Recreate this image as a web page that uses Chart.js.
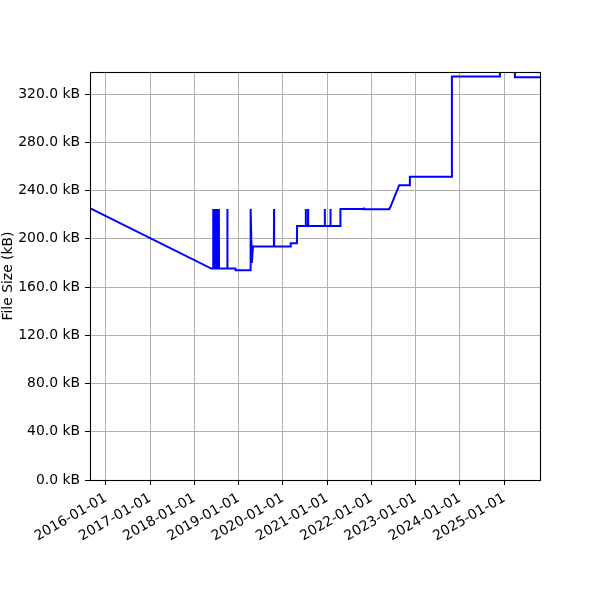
<!DOCTYPE html>
<html>
<head>
<meta charset="utf-8">
<script src="https://cdn.jsdelivr.net/npm/chart.js@4.4.1/dist/chart.umd.min.js"></script>
<style>
  html, body { margin: 0; padding: 0; background: #fff; }
  #wrap { width: 600px; height: 600px; }
</style>
</head>
<body>
<div id="wrap"><canvas id="sizeChart" width="600" height="600"></canvas></div>
<script>
// release dates and file sizes (kB)
const releaseDates = [
  '2015-08-23', '2018-05-21',
  '2018-06-04', '2018-06-05', '2018-06-06',
  '2018-06-16', '2018-06-17', '2018-06-18',
  '2018-06-28', '2018-06-29', '2018-06-30',
  '2018-07-11', '2018-07-12', '2018-07-13',
  '2018-07-21', '2018-07-22', '2018-07-23',
  '2018-09-29', '2018-09-30', '2018-10-01',
  '2018-12-06', '2018-12-07',
  '2019-04-09', '2019-04-10', '2019-04-20', '2019-04-29',
  '2019-10-19', '2019-10-20', '2019-10-21',
  '2020-03-05', '2020-03-06',
  '2020-04-26', '2020-04-27',
  '2020-07-07', '2020-07-08', '2020-07-09',
  '2020-07-26', '2020-07-27', '2020-07-28',
  '2020-12-11', '2020-12-12', '2020-12-13',
  '2021-01-27', '2021-01-28', '2021-01-29',
  '2021-04-19', '2021-04-20',
  '2021-10-28', '2021-10-30', '2021-11-01',
  '2022-05-27', '2022-06-07', '2022-08-18',
  '2022-11-13', '2022-11-14',
  '2023-10-26', '2023-10-27',
  '2024-11-25', '2024-11-26',
  '2025-03-29', '2025-03-30',
  '2025-10-23'
];
const fileSizes = [
  225.4, 175.3,
  175.3, 224.8, 175.3,
  175.3, 224.8, 175.3,
  175.3, 224.8, 175.3,
  175.3, 224.8, 175.3,
  175.3, 224.8, 175.3,
  175.3, 224.8, 175.3,
  175.3, 174.0,
  174.0, 224.8, 180.0, 193.6,
  193.6, 224.8, 193.6,
  193.6, 196.4,
  196.4, 210.7,
  210.7, 224.8, 210.7,
  210.7, 224.8, 210.7,
  210.7, 224.8, 210.7,
  210.7, 224.8, 210.7,
  210.7, 224.8,
  224.8, 225.9, 224.6,
  224.6, 226.5, 244.5,
  244.5, 251.4,
  251.4, 334.5,
  334.5, 345.0,
  345.0, 334.0,
  334.0
];
const yearTicks = ['2016-01-01', '2017-01-01', '2018-01-01', '2019-01-01', '2020-01-01',
  '2021-01-01', '2022-01-01', '2023-01-01', '2024-01-01', '2025-01-01'];
const xStart = '2015-08-23T12:00:00Z';
const xEnd = '2025-10-22T19:00:00Z';
const yTop = 338.3;

const toMs = d => Date.parse(d.length === 10 ? d + 'T00:00:00Z' : d);

Chart.defaults.font.family = 'DejaVu Sans';
Chart.defaults.font.size = 13.9;
Chart.defaults.color = '#000';

// matplotlib-like box round the plot area
const frame = {
  id: 'frame',
  afterDatasetsDraw(chart) {
    const a = chart.chartArea;
    const ctx = chart.ctx;
    ctx.save();
    ctx.strokeStyle = '#000';
    ctx.lineWidth = 1.1;
    ctx.strokeRect(Math.round(a.left) + 0.5, Math.round(a.top) + 0.5,
      Math.round(a.right - a.left), Math.round(a.bottom - a.top));
    ctx.restore();
  }
};

new Chart(document.getElementById('sizeChart'), {
  type: 'line',
  data: {
    datasets: [{
      data: releaseDates.map((d, i) => ({ x: toMs(d), y: fileSizes[i] })),
      borderColor: '#0000ff',
      borderWidth: 2,
      pointRadius: 0,
      tension: 0,
      fill: false
    }]
  },
  options: {
    responsive: false,
    animation: false,
    devicePixelRatio: 1,
    layout: { padding: { left: 0, top: 72, right: 60, bottom: 0 } },
    plugins: { legend: { display: false }, tooltip: { enabled: false } },
    scales: {
      x: {
        type: 'linear',
        min: toMs(xStart),
        max: toMs(xEnd),
        afterBuildTicks: scale => {
          scale.ticks = yearTicks.map(d => ({ value: toMs(d) }));
        },
        afterFit: scale => { scale.height = 120; },
        border: { display: false },
        grid: { color: '#b0b0b0', lineWidth: 1, tickColor: '#000', tickLength: 5 },
        ticks: {
          autoSkip: false,
          maxRotation: 30,
          minRotation: 30,
          padding: 5,
          includeBounds: false,
          callback: v => new Date(v).toISOString().slice(0, 10)
        }
      },
      y: {
        min: 0,
        max: yTop,
        afterFit: scale => { scale.width = 90; },
        border: { display: false },
        grid: { color: '#b0b0b0', lineWidth: 1, tickColor: '#000', tickLength: 5 },
        ticks: {
          stepSize: 40,
          includeBounds: false,
          padding: 5,
          callback: v => v.toFixed(1) + ' kB'
        },
        title: { display: true, text: 'File Size (kB)', padding: 0 }
      }
    }
  },
  plugins: [frame]
});
</script>
</body>
</html>
